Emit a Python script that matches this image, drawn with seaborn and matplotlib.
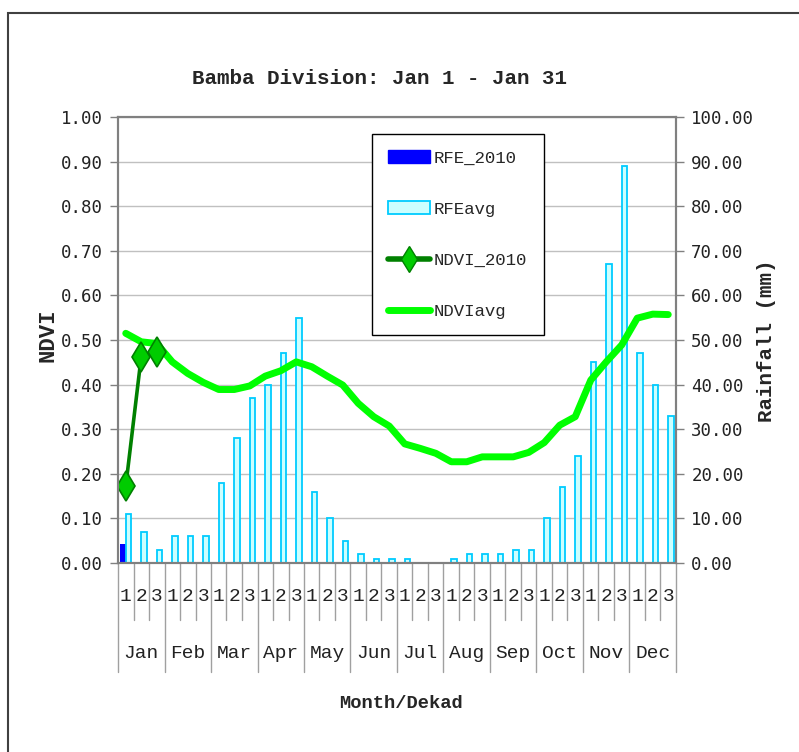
import numpy as np
import pandas as pd
import matplotlib
matplotlib.use("Agg")
import matplotlib.pyplot as plt
import matplotlib.transforms as mtransforms
from matplotlib.patches import Patch, Rectangle
from matplotlib.lines import Line2D
import seaborn as sns

# data (36 dekads, Jan 1 .. Dec 3)
months = ["Jan", "Feb", "Mar", "Apr", "May", "Jun",
          "Jul", "Aug", "Sep", "Oct", "Nov", "Dec"]
dekads = ["1", "2", "3"]

rfe_avg = [11, 7, 3, 6, 6, 6, 18, 28, 37, 40, 47, 55,
           16, 10, 5, 2, 1, 1, 1, 0, 0, 1, 2, 2,
           2, 3, 3, 10, 17, 24, 45, 67, 89, 47, 40, 33]
rfe_2010 = [4.2]
ndvi_avg = [0.515, 0.496, 0.492, 0.451, 0.425, 0.405, 0.389, 0.389, 0.397,
            0.419, 0.431, 0.451, 0.440, 0.419, 0.399, 0.358, 0.328, 0.307,
            0.267, 0.257, 0.246, 0.227, 0.227, 0.238, 0.238, 0.238, 0.248,
            0.270, 0.309, 0.328, 0.410, 0.451, 0.489, 0.549, 0.558, 0.557]
ndvi_2010 = [0.172, 0.463, 0.474]

series_names = ["RFE_2010", "RFEavg", "NDVI_2010", "NDVIavg"]
bar_colors = {"RFE_2010": "#0000ff", "RFEavg": "#ccffff"}
rfe_edge = "#00ccff"
ndvi_2010_color = "#008000"
ndvi_avg_color = "#00ff00"

sns.set_style("white")
plt.rcParams["font.family"] = ["Liberation Mono", "DejaVu Sans Mono"]

idx = np.arange(len(rfe_avg))
bars = pd.concat([
    pd.DataFrame({"pos": idx[:len(rfe_2010)], "mm": rfe_2010, "series": "RFE_2010"}),
    pd.DataFrame({"pos": idx, "mm": rfe_avg, "series": "RFEavg"}),
], ignore_index=True)

fig = plt.figure(figsize=(7.99, 7.52), dpi=100)
ax = fig.add_axes([118 / 799, 1 - 563 / 752, 558 / 799, 446 / 752])

# rainfall bars (right axis)
sns.barplot(data=bars, x="pos", y="mm", hue="series", hue_order=["RFE_2010", "RFEavg"],
            palette=bar_colors, native_scale=True, dodge=True, width=0.68,
            saturation=1, errorbar=None, legend=False, linewidth=0, ax=ax)
for bar in ax.containers[1]:
    bar.set_edgecolor(rfe_edge)
    bar.set_linewidth(1.3)

ax.set_xlim(-0.5, len(rfe_avg) - 0.5)
ax.set_ylim(0, 100)
ax.set_yticks(np.arange(0, 101, 10))
ax.set_yticklabels([f"{v:.2f}" for v in np.arange(0, 101, 10)])
ax.set_axisbelow(True)
ax.grid(axis="y", color="#c0c0c0", linewidth=1)
ax.set_xticks([])
ax.set_xlabel("")
ax.set_ylabel("")

# NDVI lines (left axis)
ax2 = ax.twinx()
ax.yaxis.tick_right()
sns.lineplot(x=idx, y=ndvi_avg, color=ndvi_avg_color, linewidth=5, ax=ax2, legend=False)
sns.lineplot(x=idx[:len(ndvi_2010)], y=ndvi_2010, color=ndvi_2010_color, linewidth=2.6,
             marker="d", markersize=15, markerfacecolor="#00cc00",
             markeredgecolor=ndvi_2010_color, markeredgewidth=1.2, ax=ax2, legend=False)
ax2.set_ylim(0, 1)
ax2.set_yticks(np.arange(0, 1.01, 0.1))
ax2.set_yticklabels([f"{v:.2f}" for v in np.arange(0, 1.01, 0.1)])
ax2.yaxis.tick_left()
ax2.set_xticks([])
ax2.set_ylabel("")

tick_font = dict(family="DejaVu Sans Mono", size=12.5)
for a in (ax, ax2):
    for lab in a.get_yticklabels():
        lab.set_fontfamily(tick_font["family"])
        lab.set_fontsize(tick_font["size"])
        lab.set_color("#222222")
    a.tick_params(axis="y", length=6, width=1, color="#808080", pad=5)
    for s in a.spines.values():
        s.set_color("#808080")
        s.set_linewidth(1.5)

# two-level category axis
trans = mtransforms.blended_transform_factory(ax.transData, ax.transAxes)
for i in idx:
    ax.text(i, -0.076, dekads[i % 3], transform=trans, ha="center", va="center",
            fontsize=14, color="#222222")
for b in range(len(idx) + 1):
    low = -0.245 if b % 3 == 0 else -0.128
    ax.plot([b - 0.5, b - 0.5], [0, low], transform=trans, clip_on=False,
            color="#a0a0a0", linewidth=1)
for m, name in enumerate(months):
    ax.text(3 * m + 1, -0.202, name, transform=trans, ha="center", va="center",
            fontsize=14, color="#222222")

# titles
fig.text(380 / 799, 1 - 78 / 752, "Bamba Division: Jan 1 - Jan 31",
         ha="center", va="center", fontsize=15, fontweight="bold")
fig.text(401 / 799, 1 - 703 / 752, "Month/Dekad",
         ha="center", va="center", fontsize=13.5, fontweight="bold")
fig.text(48 / 799, 1 - 335 / 752, "NDVI", rotation=90,
         ha="center", va="center", fontsize=16, fontweight="bold")
fig.text(766 / 799, 1 - 341 / 752, "Rainfall (mm)", rotation=90,
         ha="center", va="center", fontsize=15, fontweight="bold")

# legend
handles = [
    Patch(facecolor=bar_colors["RFE_2010"], edgecolor=bar_colors["RFE_2010"]),
    Patch(facecolor=bar_colors["RFEavg"], edgecolor=rfe_edge, linewidth=1.3),
    Line2D([], [], color=ndvi_2010_color, linewidth=4, marker="d", markersize=13,
           markerfacecolor="#00cc00", markeredgecolor=ndvi_2010_color),
    Line2D([], [], color=ndvi_avg_color, linewidth=5),
]
leg = fig.legend(handles, series_names, loc="upper left",
                 bbox_to_anchor=(372 / 799, 1 - 134 / 752), frameon=True,
                 fancybox=False, edgecolor="black", framealpha=1,
                 labelspacing=2.05, handlelength=2.4, handleheight=0.75,
                 handletextpad=0.2, borderpad=0.95, borderaxespad=0,
                 prop={"family": "Liberation Mono", "size": 12.5})
leg.get_frame().set_linewidth(1)

# outer frame around the chart
fig.patches.append(Rectangle((8 / 799, -0.1), 1.2, 1.1 - 13 / 752, transform=fig.transFigure,
                             fill=False, edgecolor="#404040", linewidth=1.5))

fig.savefig("out.png", dpi=100)
